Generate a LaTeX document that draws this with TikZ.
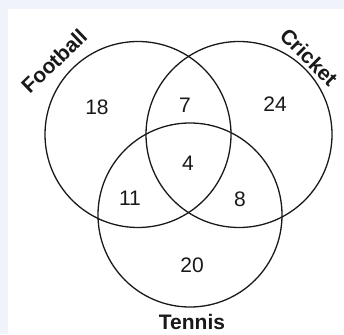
\documentclass[tikz,border=0pt]{standalone}
\usepackage{fontspec}
\setmainfont{Liberation Sans}
\definecolor{bgblue}{RGB}{240,244,250}
\definecolor{ink}{RGB}{25,25,25}
\begin{document}
\begin{tikzpicture}[x=1pt,y=1pt,
  setc/.style={draw=ink,line width=1.3pt,circle,minimum size=186pt,inner sep=0pt},
  num/.style={font=\fontsize{21}{25}\selectfont,text=ink,inner sep=0pt},
  lbl/.style={font=\bfseries\fontsize{21}{25}\selectfont,text=ink,inner sep=0pt}]
\useasboundingbox (0,0) rectangle (344,334);
\fill[bgblue] (0,0) rectangle (344,334);
\fill[white] (8,0) rectangle (344,325);
\node[setc] (F) at (138,199.5) {};
\node[setc] (C) at (239,199.5) {};
\node[setc,minimum size=184pt] (T) at (190,119) {};
\node[num] (n18) at (97,227) {18};
\node[num] (n7) at (185,229) {7};
\node[num] (n24) at (275,230) {24};
\node[num] (n4) at (188,171) {4};
\node[num] (n11) at (130,136) {11};
\node[num] (n8) at (240,135) {8};
\node[num] (n20) at (192,69) {20};
\node[lbl] (lF) at (54,273) [rotate=44] {Football};
\node[lbl] (lC) at (309,277) [rotate=-45] {Cricket};
\node[lbl] (lT) at (192,12) {Tennis};
\end{tikzpicture}
\end{document}
